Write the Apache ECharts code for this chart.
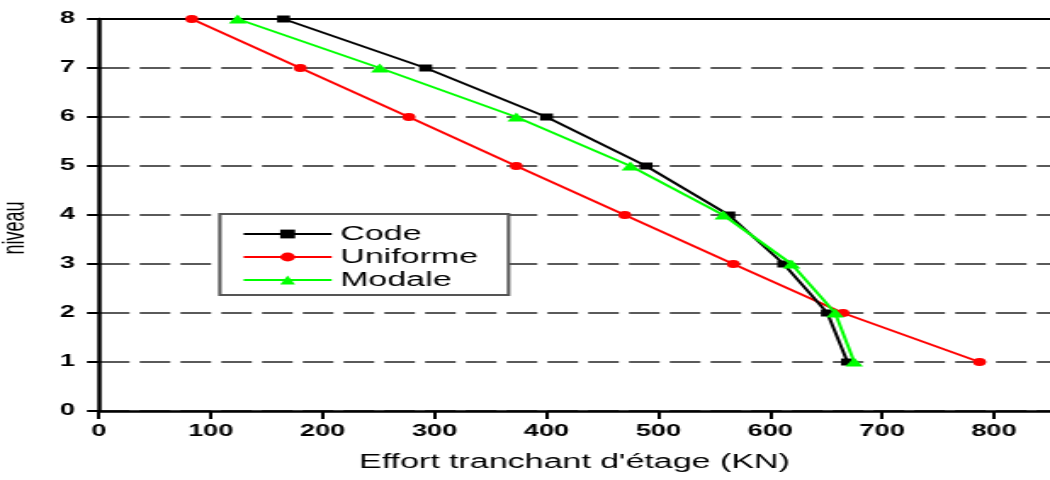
<!DOCTYPE html>
<html>
<head>
<meta charset="utf-8">
<script src="https://cdn.jsdelivr.net/npm/echarts@6/dist/echarts.min.js"></script>
<style>
  html, body { margin: 0; padding: 0; background: #fff; overflow: hidden; }
  /* the original figure is stretched sideways, so draw narrow and scale */
  #chart { width: 618px; height: 480px; transform: scaleX(1.699); transform-origin: 0 0; }
</style>
</head>
<body>
<div id="chart"></div>
<script>
  // niveaux (storeys) and shear force per storey, KN
  var levels = [1, 2, 3, 4, 5, 6, 7, 8]
  var codeVals = [669, 651, 612, 563, 489, 400, 292, 165]
  var uniformeVals = [787, 665, 567, 470, 373, 277, 180, 83]
  var modaleVals = [675, 658, 619, 558, 475, 373, 251, 124]
  var xTicks = [0, 100, 200, 300, 400, 500, 600, 700, 800]

  var font = "'Liberation Sans', Arial, sans-serif"

  function pairs(vals) {
    return vals.map(function (v, i) { return [v, levels[i]] })
  }

  var chart = echarts.init(document.getElementById('chart'))
  chart.setOption({
    animation: false,
    backgroundColor: '#fff',
    grid: { left: 58.2, right: 0, top: 19, bottom: 69, outerBoundsMode: 'none', containLabel: false },
    legend: {
      orient: 'vertical',
      left: 129.4,
      top: 214,
      data: ['Code', 'Uniforme', 'Modale'],
      itemWidth: 51.8,
      itemHeight: 11,
      itemGap: 3,
      padding: [10, 18, 5, 13],
      backgroundColor: '#fff',
      borderColor: '#555',
      borderWidth: 2,
      textStyle: { fontFamily: font, fontSize: 20, color: '#000' }
    },
    xAxis: [{
      type: 'value',
      min: 0,
      max: 850,
      interval: 100,
      position: 'bottom',
      axisLine: { onZero: false, lineStyle: { color: '#000', width: 2.5 } },
      axisTick: { length: 8, lineStyle: { color: '#000', width: 2 } },
      axisLabel: {
        margin: 13, color: '#000', fontFamily: font, fontSize: 16, fontWeight: 'bold',
        showMaxLabel: false,
        formatter: function (v) { return xTicks.indexOf(v) >= 0 ? String(v) : '' }
      },
      splitLine: { show: false },
      name: "Effort tranchant d'étage (KN)",
      nameLocation: 'middle',
      nameGap: 41,
      nameTextStyle: { fontFamily: font, fontSize: 20, color: '#000' }
    }, {
      type: 'value',
      min: 0,
      max: 850,
      position: 'top',
      axisLine: { onZero: false, lineStyle: { color: '#000', width: 2 } },
      axisTick: { show: false },
      axisLabel: { show: false },
      splitLine: { show: false }
    }],
    yAxis: [{
      type: 'value',
      min: 0,
      max: 8,
      interval: 1,
      axisLine: { onZero: false, lineStyle: { color: '#000', width: 2.5 } },
      axisTick: { length: 7, lineStyle: { color: '#000', width: 2 } },
      axisLabel: { margin: 14, color: '#000', fontFamily: font, fontSize: 16, fontWeight: 'bold' },
      splitLine: { lineStyle: { color: '#5a5a5a', width: 2, type: [18, 6] } },
      name: 'niveau',
      nameLocation: 'middle',
      nameRotate: 90,
      nameGap: 40,
      nameTextStyle: { fontFamily: font, fontSize: 18, color: '#000', padding: [0, 26, 0, 0] }
    }, {
      type: 'value',
      min: 0,
      max: 8,
      interval: 1,
      position: 'right',
      axisLine: { show: false },
      axisTick: { inside: true, length: 6, lineStyle: { color: '#000', width: 2 } },
      axisLabel: { show: false },
      splitLine: { show: false }
    }],
    series: [{
      name: 'Code',
      type: 'line',
      data: pairs(codeVals),
      color: '#000',
      symbol: 'rect',
      symbolSize: [7.6, 7],
      lineStyle: { width: 2 },
      z: 3
    }, {
      name: 'Uniforme',
      type: 'line',
      data: pairs(uniformeVals),
      color: '#ff0000',
      symbol: 'circle',
      symbolSize: [7.6, 8],
      lineStyle: { width: 2 },
      z: 2
    }, {
      name: 'Modale',
      type: 'line',
      data: pairs(modaleVals),
      color: '#00ff00',
      symbol: 'triangle',
      symbolSize: [10.5, 9],
      lineStyle: { width: 2 },
      z: 4
    }]
  })
</script>
</body>
</html>
